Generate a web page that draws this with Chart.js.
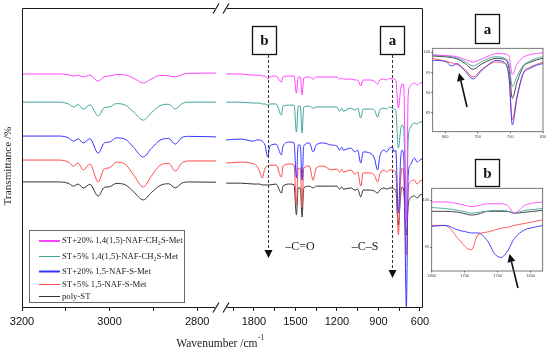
<!DOCTYPE html>
<html>
<head>
<meta charset="utf-8">
<script src="https://cdn.jsdelivr.net/npm/chart.js@4"></script>
<style>
  body { margin: 0; background: #fff; }
  #wrap { position: relative; width: 550px; height: 352px; }
  canvas { position: absolute; }
</style>
</head>
<body>
<div id="wrap">
  <canvas id="main" width="550" height="352" style="left:0;top:0"></canvas>
  <canvas id="insetA" width="132" height="105" style="left:418px;top:40px"></canvas>
  <canvas id="insetB" width="132" height="105" style="left:418px;top:180px"></canvas>
</div>
<script>
const SERIF = '"Liberation Serif", "DejaVu Serif", serif';
const SANS = '"Liberation Sans", Arial, sans-serif';

const seriesLabels = ['ST+20% 1,4(1,5)-NAF-CH₂S-Met', 'ST+5% 1,4(1,5)-NAF-CH₂S-Met',
  'ST+20% 1,5-NAF-S-Met', 'ST+5% 1,5-NAF-S-Met', 'poly-ST'];
const seriesColors = ['#ff44ff', '#3fa39a', '#3535ff', '#ff4a4a', '#333333'];

// left part of the broken axis, 3200-2750 cm-1
const waveL = [3200, 3120, 3095, 3082, 3072, 3060, 3045, 3026, 3012, 3000, 2985, 2965, 2945, 2923, 2905, 2885, 2865, 2850, 2835, 2820, 2750];
const pinkL = [77.7, 77.7, 77.5, 77.0, 77.3, 76.7, 77.3, 75.3, 76.8, 77.0, 77.5, 77.4, 76.3, 74.7, 76.0, 77.2, 77.1, 76.7, 77.5, 77.9, 78.0];
const tealL = [68.3, 68.3, 67.8, 66.7, 67.5, 66.0, 67.4, 63.7, 66.5, 66.7, 67.8, 67.4, 65.0, 62.3, 64.7, 67.1, 67.6, 66.0, 67.8, 68.3, 68.3];
const blueL = [57.0, 57.0, 56.5, 55.3, 56.1, 54.7, 56.1, 51.3, 54.7, 55.0, 56.4, 56.0, 53.2, 50.0, 52.8, 55.6, 56.2, 54.3, 56.5, 56.9, 56.7];
const redL = [49.0, 49.0, 48.4, 47.0, 48.0, 45.7, 47.7, 41.7, 46.1, 46.4, 48.3, 47.7, 44.0, 40.0, 43.6, 47.2, 47.9, 45.3, 48.0, 48.7, 48.7];
const blackL = [41.7, 41.7, 41.3, 40.3, 41.0, 39.7, 40.9, 37.0, 39.9, 40.1, 41.2, 40.8, 38.4, 35.7, 38.1, 40.5, 41.1, 39.7, 41.3, 41.7, 41.6];

// right part, 2000-580 cm-1
const waveR = [2000, 1900, 1800, 1780, 1760, 1740, 1720, 1700, 1685, 1640,
  1601, 1590, 1540, 1510, 1493, 1480, 1465, 1452, 1440, 1400,
  1372, 1350, 1300, 1240, 1200, 1181, 1165, 1155, 1100, 1069,
  1050, 1028, 1010, 960, 930, 906, 890, 860, 841, 820,
  800, 785, 775, 756, 740, 730, 718, 698, 685, 670,
  640, 620, 600, 580];
const pinkR = [77.7, 77.7, 77.3, 77.3, 77.3, 77.0, 77.0, 76.0, 76.7, 77.0,
  75.0, 76.7, 77.0, 77.0, 71.3, 76.7, 76.7, 70.7, 76.3, 76.7,
  76.0, 76.7, 76.7, 76.7, 76.7, 76.0, 76.3, 76.0, 76.0, 75.7,
  75.7, 73.7, 75.7, 75.7, 75.3, 74.3, 75.7, 76.0, 75.7, 76.3,
  76.0, 76.0, 75.7, 66.3, 72.3, 74.3, 74.3, 28.3, 70.7, 73.7,
  74.7, 74.0, 74.7, 75.0];
const tealR = [68.3, 68.3, 68.0, 68.0, 68.0, 67.7, 67.7, 67.3, 67.7, 67.7,
  64.0, 67.0, 67.3, 67.3, 58.3, 67.0, 67.0, 58.0, 66.7, 67.0,
  66.3, 66.7, 66.7, 66.7, 66.7, 65.3, 66.3, 65.3, 66.3, 65.7,
  66.3, 63.0, 66.0, 66.0, 65.7, 63.3, 65.7, 66.3, 66.0, 66.7,
  66.3, 66.0, 65.7, 53.0, 59.0, 60.7, 60.0, 30.7, 55.7, 59.7,
  61.3, 61.0, 61.7, 61.7];
const blueR = [55.7, 56.0, 55.3, 55.7, 55.7, 55.3, 54.0, 50.0, 53.7, 54.3,
  50.7, 53.7, 55.0, 54.7, 43.0, 54.0, 54.0, 42.3, 53.7, 54.7,
  51.7, 54.0, 54.7, 54.0, 53.7, 52.3, 53.3, 52.3, 53.0, 51.7,
  52.3, 48.0, 51.7, 51.3, 49.7, 45.7, 50.3, 52.3, 51.7, 53.0,
  53.3, 51.7, 52.3, 31.3, 49.0, 52.3, 50.7, 0, 44.0, 47.3,
  49.7, 48.3, 49.0, 49.7];
const redR = [48.0, 48.3, 47.7, 47.0, 45.3, 43.0, 46.3, 47.0, 47.3, 47.3,
  43.3, 47.0, 47.7, 47.3, 34.0, 46.3, 46.3, 33.3, 46.3, 47.0,
  42.3, 46.3, 47.0, 45.7, 46.0, 45.0, 46.0, 45.0, 45.7, 44.3,
  45.0, 40.3, 44.7, 44.7, 44.0, 41.7, 44.3, 45.7, 45.0, 45.7,
  45.7, 45.3, 45.0, 24.0, 42.3, 46.3, 45.0, 17.3, 39.0, 41.7,
  42.3, 41.0, 42.0, 42.3];
const blackR = [41.3, 41.3, 41.0, 41.0, 41.0, 40.7, 40.7, 40.7, 40.7, 41.0,
  38.0, 40.3, 41.0, 40.7, 30.7, 39.7, 39.7, 30.0, 39.7, 40.3,
  39.7, 40.3, 40.3, 40.3, 40.3, 39.3, 40.0, 39.3, 39.7, 39.0,
  39.3, 36.7, 39.0, 39.0, 38.7, 38.0, 39.0, 39.7, 39.3, 39.7,
  39.7, 39.3, 39.0, 27.3, 37.3, 40.0, 39.0, 24.0, 34.0, 36.3,
  37.0, 36.3, 37.3, 37.7];

// inset a (820-650 cm-1)
const waveA = [819, 800, 790, 782, 770, 757, 745, 730, 722, 710, 702, 697, 690, 680, 670, 660, 650];
const pinkA = [99.4, 99.2, 99.1, 98.9, 98.3, 97.6, 98.3, 99.3, 99.7, 99.6, 99.0, 94.5, 97.0, 98.8, 99.4, 99.7, 99.9];
const tealA = [99.3, 99.1, 98.9, 98.6, 97.8, 96.6, 97.6, 98.7, 98.9, 98.6, 97.0, 91.5, 94.0, 96.8, 97.8, 98.5, 98.9];
const blueA = [98.0, 97.8, 96.6, 97.2, 95.5, 93.4, 95.3, 97.4, 98.0, 97.6, 93.5, 82.0, 88.5, 94.8, 96.0, 96.8, 97.2];
const redA = [98.5, 97.8, 97.4, 97.0, 95.8, 93.9, 95.6, 97.2, 97.6, 97.3, 94.0, 83.3, 89.0, 95.0, 96.3, 97.0, 97.6];
const blackA = [99.1, 98.9, 98.7, 98.4, 97.3, 95.8, 97.0, 98.2, 98.5, 98.3, 96.0, 88.6, 92.5, 96.5, 97.5, 98.1, 98.5];

// inset b (1800-1632 cm-1)
const waveB = [1800, 1780, 1760, 1747, 1740, 1730, 1715, 1705, 1695, 1685, 1675, 1660, 1645, 1632];
const pinkB = [99.8, 99.8, 99.6, 99.4, 99.3, 99.4, 99.6, 99.6, 99.6, 99.4, 98.6, 99.4, 99.7, 99.8];
const tealB = [99.2, 99.1, 98.9, 98.7, 98.6, 98.7, 98.8, 98.9, 98.9, 98.8, 98.6, 98.9, 99.0, 99.1];
const blueB = [97.2, 97.3, 96.8, 96.6, 96.5, 96.5, 95.6, 94.3, 93.9, 94.6, 95.9, 96.8, 97.1, 97.3];
const redB = [97.3, 97.3, 95.9, 94.9, 94.7, 96.3, 96.6, 96.8, 97.0, 97.1, 97.3, 97.5, 97.7, 97.9];
const blackB = [98.8, 98.8, 98.7, 98.5, 98.4, 98.5, 98.8, 98.8, 98.8, 98.8, 98.6, 98.7, 98.8, 98.9];

const arrowB = 1700, arrowA = 800;   // cm-1 of the dashed arrows

function pts(xs, ys) { return xs.map((x, i) => ({x: x, y: ys[i]})); }

function lineSet(xs, ys, i, axis, w) {
  return {data: pts(xs, ys), xAxisID: axis, borderColor: seriesColors[i], borderWidth: w,
    pointRadius: 0, cubicInterpolationMode: 'monotone', fill: false};
}

const leftSets = [pinkL, tealL, blueL, redL, blackL];
const rightSets = [pinkR, tealR, blueR, redR, blackR];
const datasets = [];
leftSets.forEach((s, i) => datasets.push(lineSet(waveL, s, i, 'xL', 1)));
rightSets.forEach((s, i) => datasets.push(lineSet(waveR, s, i, 'xR', 1)));

function seg(ctx, x1, y1, x2, y2) { ctx.beginPath(); ctx.moveTo(x1, y1); ctx.lineTo(x2, y2); ctx.stroke(); }

function arrow(ctx, x1, y1, x2, y2, size) {
  const ang = Math.atan2(y2 - y1, x2 - x1);
  const bx = x2 - size * Math.cos(ang), by = y2 - size * Math.sin(ang);
  seg(ctx, x1, y1, bx, by);
  ctx.setLineDash([]);
  ctx.beginPath();
  ctx.moveTo(x2, y2);
  ctx.lineTo(bx + size * 0.5 * Math.sin(ang), by - size * 0.5 * Math.cos(ang));
  ctx.lineTo(bx - size * 0.5 * Math.sin(ang), by + size * 0.5 * Math.cos(ang));
  ctx.closePath();
  ctx.fill();
}

function labelBox(ctx, x, y, w, h, t) {
  ctx.lineWidth = 1.3; ctx.strokeStyle = '#111';
  ctx.strokeRect(x, y, w, h);
  ctx.fillStyle = '#111';
  ctx.font = 'bold 15px ' + SERIF;
  ctx.textAlign = 'center'; ctx.textBaseline = 'middle';
  ctx.fillText(t, x + w / 2, y + h / 2 + 1);
}

const mainDeco = {
  id: 'mainDeco',
  afterDraw(chart) {
    const ctx = chart.ctx, a = chart.chartArea, xR = chart.scales.xR;
    ctx.save();
    ctx.strokeStyle = '#1a1a1a'; ctx.lineWidth = 1;
    const L = a.left + 0.5, R = a.right - 0.5, T = a.top + 0.5, B = a.bottom + 0.5;
    const g1 = 215, g2 = 227;
    seg(ctx, L, T, L, B); seg(ctx, R, T, R, B);
    seg(ctx, L, T, g1, T); seg(ctx, g2, T, R, T);
    seg(ctx, L, B, g1, B); seg(ctx, g2, B, R, B);
    ctx.lineWidth = 1.2;
    [T, B].forEach(y => {
      seg(ctx, g1 - 2, y + 5, g1 + 4, y - 5);
      seg(ctx, g2 - 4, y + 5, g2 + 2, y - 5);
    });

    // axis titles
    ctx.fillStyle = '#222';
    ctx.font = '11.2px ' + SERIF;
    ctx.textAlign = 'center'; ctx.textBaseline = 'middle';
    ctx.save();
    ctx.translate(8.5, 166); ctx.rotate(-Math.PI / 2);
    ctx.fillText('Transmittance /%', 0, 0);
    ctx.restore();
    ctx.font = '11.5px ' + SERIF;
    const t1 = 'Wavenumber /cm';
    const w1 = ctx.measureText(t1).width;
    ctx.font = '7.5px ' + SERIF;
    const w2 = ctx.measureText('-1').width;
    const x0 = 220 - (w1 + w2) / 2;
    ctx.textAlign = 'left'; ctx.textBaseline = 'alphabetic';
    ctx.font = '11.5px ' + SERIF;
    ctx.fillText(t1, x0, 347);
    ctx.font = '7.5px ' + SERIF;
    ctx.fillText('-1', x0 + w1 + 0.5, 340);

    // legend
    ctx.fillStyle = '#fff';
    ctx.fillRect(29.5, 230.5, 155, 72);
    ctx.strokeStyle = '#666'; ctx.lineWidth = 1;
    ctx.strokeRect(29.5, 230.5, 155, 72);
    const rows = [241, 256.5, 271.5, 284.5, 296.5];
    const widths = [2, 1, 2, 1, 1];
    ctx.font = '8.7px ' + SERIF; ctx.textBaseline = 'middle'; ctx.textAlign = 'left';
    rows.forEach((y, i) => {
      ctx.strokeStyle = seriesColors[i]; ctx.lineWidth = widths[i];
      seg(ctx, 39, y, 60, y);
      ctx.fillStyle = '#222';
      ctx.fillText(seriesLabels[i], 62, y);
    });

    // boxes and dashed arrows
    labelBox(ctx, 252.5, 26.5, 24, 28, 'b');
    labelBox(ctx, 380.5, 26.5, 24, 28, 'a');
    labelBox(ctx, 475.5, 14.5, 24, 29, 'a');
    labelBox(ctx, 475.5, 159.5, 24, 27, 'b');
    ctx.strokeStyle = '#333'; ctx.fillStyle = '#111'; ctx.lineWidth = 1;
    ctx.setLineDash([3, 2]);
    const bx = Math.round(xR.getPixelForValue(arrowB)) + 0.5;
    arrow(ctx, bx, 55, bx, 258, 8);
    ctx.setLineDash([3, 2]);
    const ax = Math.round(xR.getPixelForValue(arrowA)) + 0.5;
    arrow(ctx, ax, 55, ax, 278, 8);
    ctx.setLineDash([]);

    ctx.fillStyle = '#222';
    ctx.font = '12px ' + SERIF; ctx.textAlign = 'center'; ctx.textBaseline = 'middle';
    ctx.fillText('–C=O', 300, 247);
    ctx.fillText('–C–S', 365, 247);

    // inset arrows
    ctx.strokeStyle = '#111'; ctx.fillStyle = '#111'; ctx.lineWidth = 1.6;
    arrow(ctx, 467, 107, 459, 73, 8);
    arrow(ctx, 518, 288, 509.5, 254, 8);
    ctx.restore();
  }
};

new Chart(document.getElementById('main'), {
  type: 'line',
  data: {datasets: datasets},
  options: {
    responsive: false,
    animation: false,
    layout: {padding: {left: 22, top: 8, right: 127, bottom: 0}},
    plugins: {legend: {display: false}, tooltip: {enabled: false}},
    scales: {
      xL: {
        type: 'linear', position: 'bottom', stack: 'wn', stackWeight: 194, weight: 1,
        min: 2757, max: 3200, reverse: true,
        afterFit: s => { s.height = 45; },
        border: {display: false},
        grid: {drawOnChartArea: false, tickLength: 4, color: '#1a1a1a'},
        ticks: {stepSize: 100, autoSkip: false, maxRotation: 0, minRotation: 0, includeBounds: false,
          padding: 4.5, color: '#111', font: {family: SANS, size: 11},
          callback: v => (v % 200 === 0 ? String(v) : '')}
      },
      xG: {
        type: 'linear', position: 'bottom', stack: 'wn', stackWeight: 10, weight: 2,
        min: 0, max: 1,
        afterFit: s => { s.height = 45; },
        border: {display: false}, grid: {display: false}, ticks: {display: false}
      },
      xR: {
        type: 'linear', position: 'bottom', stack: 'wn', stackWeight: 197, weight: 3,
        min: 578, max: 2002, reverse: true,
        afterFit: s => { s.height = 45; },
        border: {display: false},
        grid: {drawOnChartArea: false, tickLength: 4, color: '#1a1a1a'},
        ticks: {stepSize: 150, autoSkip: false, maxRotation: 0, minRotation: 0, includeBounds: false,
          padding: 4.5, color: '#111', font: {family: SANS, size: 11},
          callback: v => (v % 300 === 0 ? String(v) : '')}
      },
      y: {display: false, min: 0, max: 99.7}
    }
  },
  plugins: [mainDeco]
});

const insetFrame = {
  id: 'insetFrame',
  afterDraw(chart) {
    const ctx = chart.ctx, a = chart.chartArea;
    ctx.save();
    ctx.strokeStyle = '#555'; ctx.lineWidth = 0.8;
    ctx.strokeRect(a.left, a.top, a.right - a.left, a.bottom - a.top);
    ctx.restore();
  }
};

function inset(id, xs, sets, xr, yr, pad, yw, xh) {
  new Chart(document.getElementById(id), {
    type: 'line',
    data: {datasets: sets.map((s, i) => lineSet(xs, s, i, 'x', 0.9))},
    options: {
      responsive: false,
      animation: false,
      layout: {padding: pad},
      plugins: {legend: {display: false}, tooltip: {enabled: false}},
      scales: {
        x: {
          type: 'linear', min: xr[0], max: xr[1], reverse: true,
          afterFit: s => { s.height = xh; },
          border: {display: false},
          grid: {drawOnChartArea: false, tickLength: 1.5, color: '#666'},
          ticks: {stepSize: 50, autoSkip: false, maxRotation: 0, includeBounds: false, padding: 1,
            color: '#444', font: {family: SANS, size: 4}, callback: v => String(v)}
        },
        y: {
          min: yr[0], max: yr[1],
          afterFit: s => { s.width = yw; },
          border: {display: false},
          grid: {drawOnChartArea: false, tickLength: 1.5, color: '#666'},
          ticks: {stepSize: 5, includeBounds: false, padding: 1, color: '#444',
            font: {family: SANS, size: 4}, callback: v => String(v)}
        }
      }
    },
    plugins: [insetFrame]
  });
}

inset('insetA', waveA, [pinkA, tealA, blueA, redA, blackA], [650, 819], [80.3, 101],
  {left: 0, top: 8.3, right: 7, bottom: 0}, 14.7, 13.3);
inset('insetB', waveB, [pinkB, tealB, blueB, redB, blackB], [1632, 1800], [92.45, 101.25],
  {left: 0, top: 8.3, right: 7.3, bottom: 0}, 13.7, 14);
</script>
</body>
</html>
